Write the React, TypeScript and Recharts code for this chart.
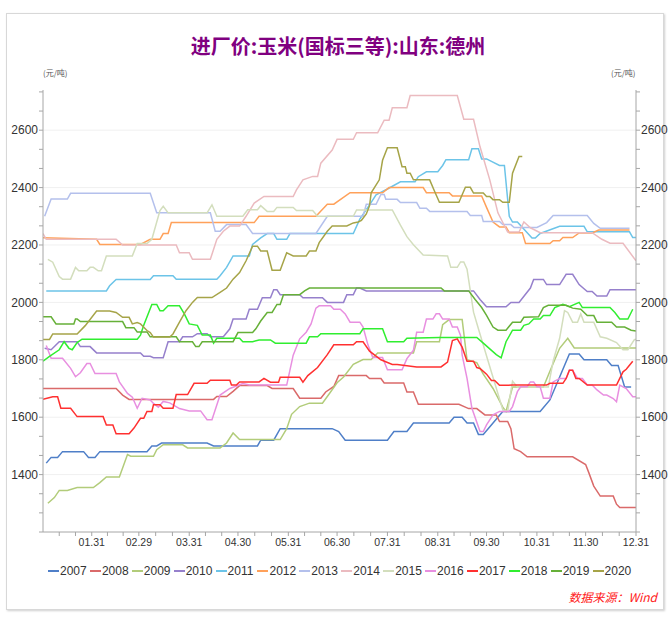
import React from 'react';
import { LineChart, Line, XAxis, YAxis, ReferenceLine } from 'recharts';

const years = ['2007','2008','2009','2010','2011','2012','2013','2014','2015','2016','2017','2018','2019','2020'];
const colors = ['#4F7FC8','#DA6A6A','#B2CC7A','#9680CC','#6CC4E8','#FFA15A','#B4C0EC','#EBBBC0','#D3DEBD','#E88FE0','#FF3030','#30EE30','#66B038','#A6A448'];
const monthEndDays = [30,59,90,120,151,181,212,243,273,304,334,365];
const monthLabels = ['01.31','02.29','03.31','04.30','05.31','06.30','07.31','08.31','09.30','10.31','11.30','12.31'];
const yLabels = [1400,1600,1800,2000,2200,2400,2600];

const s2007 = [[2,1440],[5,1460],[9,1460],[12,1480],[25,1480],[28,1460],[32,1460],[35,1480],[64,1480],[67,1500],[70,1500],[73,1510],[101,1510],[105,1500],[132,1500],[134,1520],[142,1520],[146,1560],[178,1560],[182,1550],[186,1520],[212,1520],[216,1550],[224,1550],[228,1580],[250,1580],[253,1600],[258,1600],[261,1580],[265,1580],[268,1540],[271,1540],[283,1620],[306,1620],[312,1660],[318,1740],[324,1820],[330,1820],[333,1800],[347,1800],[350,1780],[354,1780],[358,1705],[362,1705]];
const s2008 = [[0,1700],[45,1700],[49,1677],[53,1662],[105,1662],[107,1672],[113,1672],[117,1690],[121,1710],[138,1710],[141,1700],[154,1700],[158,1666],[171,1666],[174,1688],[179,1707],[182,1745],[199,1745],[201,1735],[208,1735],[210,1719],[222,1719],[224,1688],[228,1688],[231,1645],[256,1645],[262,1630],[267,1630],[272,1608],[279,1608],[281,1585],[286,1585],[288,1560],[290,1490],[294,1480],[298,1462],[326,1462],[334,1435],[336,1406],[339,1360],[343,1325],[351,1325],[353,1297],[355,1285],[365,1285]];
const s2009 = [[3,1300],[7,1320],[10,1345],[15,1345],[21,1355],[31,1355],[35,1372],[39,1392],[47,1392],[52,1470],[54,1464],[68,1464],[70,1487],[74,1504],[86,1504],[89,1493],[109,1493],[113,1510],[117,1545],[121,1522],[146,1522],[150,1560],[153,1610],[158,1637],[164,1649],[172,1649],[176,1680],[181,1720],[185,1740],[191,1784],[197,1801],[202,1801],[206,1824],[228,1824],[230,1863],[244,1863],[246,1922],[250,1940],[258,1940],[261,1800],[267,1790],[271,1750],[277,1700],[283,1635],[285,1620],[289,1705],[308,1705],[312,1760],[318,1840],[323,1875],[327,1841],[365,1841]];
const s2010 = [[1,1840],[5,1835],[10,1863],[21,1863],[23,1846],[29,1846],[33,1824],[60,1824],[62,1812],[66,1812],[68,1807],[74,1807],[77,1863],[84,1863],[86,1880],[92,1880],[95,1891],[101,1891],[103,1880],[111,1880],[115,1908],[117,1942],[125,1942],[127,1976],[132,1976],[135,2016],[140,2016],[142,2044],[144,2044],[146,2027],[158,2027],[160,2016],[172,2016],[175,2000],[185,2000],[187,2027],[191,2027],[193,2050],[195,2050],[199,2040],[265,2040],[269,2010],[273,1985],[285,1985],[288,2000],[293,2000],[300,2050],[302,2080],[308,2080],[310,2062],[318,2062],[322,2098],[326,2098],[330,2062],[335,2038],[338,2038],[341,2022],[347,2022],[349,2044],[365,2044]];
const s2011 = [[2,2040],[39,2040],[41,2058],[45,2080],[66,2080],[68,2093],[80,2093],[82,2081],[107,2081],[109,2093],[113,2122],[117,2162],[127,2162],[129,2202],[134,2225],[138,2240],[142,2240],[144,2220],[150,2220],[152,2240],[191,2240],[195,2290],[201,2340],[205,2375],[212,2395],[220,2420],[229,2420],[231,2438],[236,2455],[243,2455],[246,2477],[248,2497],[262,2497],[264,2535],[268,2535],[270,2500],[273,2500],[281,2477],[284,2477],[287,2300],[289,2280],[292,2280],[301,2224],[303,2224],[306,2240],[318,2265],[333,2265],[335,2246],[361,2246],[363,2226],[365,2226]];
const s2012 = [[0,2225],[33,2220],[35,2202],[60,2202],[66,2220],[72,2220],[74,2240],[77,2240],[79,2278],[130,2278],[133,2300],[168,2300],[175,2342],[179,2342],[189,2382],[209,2382],[213,2400],[234,2400],[236,2382],[250,2382],[252,2371],[270,2371],[273,2331],[277,2280],[281,2263],[285,2263],[287,2243],[295,2243],[297,2205],[312,2205],[314,2215],[318,2215],[320,2226],[326,2226],[330,2242],[338,2242],[342,2252],[361,2252]];
const s2013 = [[1,2300],[5,2360],[15,2360],[17,2380],[66,2380],[70,2312],[103,2312],[106,2248],[109,2248],[113,2271],[125,2271],[129,2240],[168,2240],[175,2300],[197,2300],[199,2342],[205,2342],[208,2376],[210,2376],[211,2359],[218,2359],[220,2348],[230,2348],[232,2328],[236,2328],[238,2317],[261,2317],[263,2303],[270,2303],[271,2282],[281,2282],[283,2271],[288,2271],[290,2261],[304,2261],[310,2278],[314,2303],[335,2303],[339,2275],[343,2258],[361,2258]];
const s2014 = [[0,2240],[2,2220],[45,2220],[49,2200],[82,2200],[84,2173],[90,2173],[92,2150],[103,2150],[107,2220],[111,2248],[115,2266],[121,2266],[125,2300],[130,2346],[136,2369],[154,2369],[156,2392],[160,2427],[166,2439],[169,2439],[171,2485],[178,2531],[181,2568],[191,2568],[193,2591],[206,2591],[210,2635],[213,2635],[215,2678],[224,2678],[226,2721],[255,2721],[259,2638],[265,2638],[269,2542],[275,2427],[280,2312],[286,2245],[293,2245],[296,2280],[300,2260],[306,2243],[338,2243],[344,2220],[349,2206],[357,2206],[365,2145]];
const s2015 = [[3,2150],[6,2140],[10,2090],[12,2081],[17,2081],[20,2122],[22,2110],[27,2110],[29,2122],[31,2122],[34,2110],[36,2110],[39,2162],[55,2162],[58,2205],[64,2205],[67,2220],[72,2320],[74,2335],[77,2312],[101,2312],[104,2340],[107,2300],[123,2300],[126,2323],[132,2323],[134,2337],[138,2317],[142,2317],[144,2331],[154,2331],[156,2320],[166,2320],[169,2300],[191,2300],[193,2322],[215,2322],[220,2269],[224,2229],[228,2201],[234,2165],[249,2162],[251,2122],[255,2122],[257,2141],[259,2141],[261,2116],[265,1966],[268,1908],[274,1795],[283,1626],[286,1620],[289,1725],[292,1705],[311,1705],[314,1795],[318,1875],[321,1971],[323,1965],[326,1931],[329,1931],[331,1960],[333,1931],[339,1931],[343,1880],[347,1875],[353,1860],[357,1835],[360,1835],[364,1870],[365,1872]];
const s2016 = [[2,1850],[5,1805],[12,1805],[17,1770],[20,1741],[23,1755],[27,1787],[29,1787],[32,1752],[45,1752],[47,1723],[52,1683],[55,1670],[58,1631],[61,1666],[66,1660],[68,1648],[71,1635],[74,1655],[78,1650],[84,1630],[90,1622],[97,1622],[101,1591],[104,1591],[109,1677],[115,1700],[123,1717],[127,1712],[150,1712],[154,1816],[158,1873],[162,1896],[165,1925],[168,1980],[170,1988],[177,1988],[179,1976],[183,1976],[186,1960],[189,1931],[195,1931],[197,1914],[200,1852],[203,1808],[209,1808],[212,1765],[221,1765],[224,1804],[228,1833],[230,1896],[234,1896],[236,1942],[240,1942],[242,1960],[244,1960],[246,1942],[250,1942],[252,1914],[255,1914],[257,1885],[258,1816],[261,1735],[264,1631],[269,1550],[271,1550],[273,1573],[277,1608],[281,1620],[287,1620],[289,1637],[292,1689],[294,1706],[298,1706],[300,1723],[302,1723],[304,1706],[306,1706],[308,1666],[312,1666],[314,1723],[318,1735],[322,1735],[324,1764],[326,1764],[329,1735],[332,1735],[335,1712],[338,1712],[341,1695],[345,1677],[347,1677],[351,1665],[353,1654],[355,1712],[359,1700],[363,1671],[365,1671]];
const s2017 = [[0,1662],[6,1671],[9,1671],[11,1631],[17,1631],[21,1602],[37,1602],[39,1573],[43,1573],[45,1542],[53,1542],[56,1562],[60,1596],[62,1596],[64,1620],[67,1620],[68,1643],[72,1643],[74,1631],[80,1631],[82,1679],[89,1679],[93,1718],[101,1718],[103,1729],[115,1729],[116,1712],[119,1712],[121,1723],[133,1723],[136,1735],[140,1722],[145,1722],[146,1739],[158,1739],[160,1722],[163,1745],[169,1773],[175,1818],[179,1852],[191,1852],[193,1863],[197,1863],[201,1830],[208,1800],[215,1784],[218,1784],[230,1775],[245,1775],[249,1792],[252,1867],[255,1873],[258,1844],[261,1795],[265,1795],[267,1773],[269,1770],[273,1750],[276,1728],[278,1728],[281,1711],[286,1711],[289,1712],[310,1712],[312,1718],[320,1718],[322,1735],[324,1764],[326,1764],[328,1735],[330,1735],[335,1712],[353,1712],[355,1735],[357,1758],[359,1767],[363,1795]];
const s2018 = [[0,1795],[4,1812],[10,1835],[13,1863],[16,1840],[18,1835],[21,1860],[24,1872],[58,1872],[60,1886],[62,1920],[67,1993],[70,1993],[72,1971],[74,1971],[77,1988],[84,1988],[87,1960],[90,1925],[95,1920],[98,1886],[103,1886],[105,1858],[107,1875],[121,1875],[123,1863],[129,1863],[133,1869],[140,1869],[143,1858],[162,1858],[164,1880],[169,1880],[171,1891],[195,1891],[197,1908],[209,1908],[212,1863],[222,1863],[224,1875],[244,1878],[267,1878],[271,1858],[279,1818],[282,1807],[285,1863],[289,1903],[294,1903],[296,1920],[299,1925],[302,1942],[306,1942],[308,1954],[312,1954],[315,1982],[320,1993],[324,1985],[330,2000],[332,1982],[349,1982],[352,1965],[355,1942],[360,1942],[363,1976]];
const s2019 = [[0,1950],[5,1950],[8,1925],[19,1925],[20,1942],[21,1942],[23,1933],[49,1933],[51,1912],[56,1912],[58,1897],[64,1897],[66,1880],[82,1880],[84,1863],[92,1863],[94,1846],[96,1846],[98,1863],[117,1863],[120,1895],[129,1895],[131,1908],[134,1935],[138,1965],[141,1965],[144,1993],[146,1993],[148,2027],[158,2027],[161,2040],[164,2050],[245,2050],[247,2040],[262,2040],[266,2010],[270,1982],[273,1955],[277,1914],[280,1903],[285,1903],[289,1931],[294,1931],[296,1948],[305,1950],[308,1982],[311,1990],[322,1990],[326,1980],[331,1976],[335,1954],[339,1954],[341,1931],[350,1931],[353,1914],[358,1914],[362,1903],[365,1900]];
const s2020 = [[0,1871],[4,1871],[6,1890],[21,1890],[26,1919],[33,1970],[41,1970],[45,1965],[49,1948],[53,1948],[55,1925],[58,1930],[60,1925],[64,1902],[66,1895],[68,1879],[78,1879],[80,1890],[84,1931],[88,1971],[92,2000],[95,2017],[104,2017],[109,2035],[113,2050],[117,2081],[121,2104],[125,2145],[129,2196],[132,2196],[134,2179],[138,2179],[141,2112],[146,2112],[150,2173],[154,2162],[162,2162],[164,2179],[168,2179],[170,2208],[175,2248],[178,2266],[187,2266],[191,2277],[194,2280],[196,2286],[199,2308],[201,2337],[202,2382],[207,2427],[209,2495],[212,2539],[218,2539],[221,2473],[223,2473],[224,2450],[226,2450],[228,2427],[238,2427],[241,2387],[244,2349],[256,2349],[258,2375],[260,2401],[263,2401],[265,2381],[271,2381],[273,2369],[275,2369],[277,2358],[281,2358],[283,2349],[287,2349],[289,2450],[293,2508],[295,2508]];

const seriesValues = [s2007,s2008,s2009,s2010,s2011,s2012,s2013,s2014,s2015,s2016,s2017,s2018,s2019,s2020];

const xTicks: number[] = [];
{
  let prev = 0;
  for (const m of monthEndDays) {
    xTicks.push(prev + (m - prev) / 3, prev + (2 * (m - prev)) / 3, m);
    prev = m;
  }
}
const yTicks: number[] = [];
for (let k = 0; k <= 23; k++) yTicks.push(1200 + (k * 200) / 3);

const fmtX = (v: number) => {
  const i = monthEndDays.indexOf(v);
  return i >= 0 ? monthLabels[i] : '';
};
const fmtY = (v: number) => {
  const r = Math.round(v);
  return Math.abs(v - r) < 0.01 && yLabels.includes(r) ? String(r) : '';
};

const FONT = "'Liberation Sans', 'Noto Sans CJK SC', sans-serif";

export default function App() {
  const axisColor = '#a6a6a6';
  return (
    <div style={{ position: 'absolute', left: 0, top: 0, width: 670, height: 622, background: '#fff', fontFamily: FONT }}>
      <div style={{ position: 'absolute', left: 6, top: 13, width: 656, height: 595, border: '1px solid #d8d8d8', boxShadow: '1px 1px 2px #cfcfcf' }} />
      <div style={{ position: 'absolute', left: 3, top: 31, width: 670, textAlign: 'center', fontFamily: "'Noto Sans CJK SC', sans-serif", fontWeight: 700, fontSize: 20, color: '#800080', lineHeight: '30px' }}>
        进厂价:玉米(国标三等):山东:德州
      </div>
      <div style={{ position: 'absolute', left: 43, top: 67, fontSize: 8, color: '#555', fontFamily: "'Noto Sans CJK SC', sans-serif" }}>(元/吨)</div>
      <div style={{ position: 'absolute', left: 611, top: 67, fontSize: 8, color: '#555', fontFamily: "'Noto Sans CJK SC', sans-serif" }}>(元/吨)</div>
      <div style={{ position: 'absolute', left: 0, top: 0 }}>
        <LineChart width={670} height={622} margin={{ top: 90, right: 0, bottom: 0, left: 0 }}>
          <XAxis type="number" dataKey="d" domain={[0, 365]} ticks={xTicks} interval={0} tickFormatter={fmtX}
            height={90} tickSize={4} tickMargin={3} stroke={axisColor} allowDataOverflow
            tick={{ fill: '#333', fontSize: 10.5, fontFamily: FONT }} />
          <YAxis yAxisId="l" orientation="left" domain={[1200, 2740]} ticks={yTicks} interval={0} tickFormatter={fmtY}
            width={43} tickSize={4} tickMargin={1} stroke={axisColor} allowDataOverflow
            tick={{ fill: '#333', fontSize: 12, fontFamily: FONT }} />
          <YAxis yAxisId="r" orientation="right" domain={[1200, 2740]} ticks={yTicks} interval={0} tickFormatter={fmtY}
            width={34} tickSize={4} tickMargin={1} stroke={axisColor} allowDataOverflow
            tick={{ fill: '#333', fontSize: 12, fontFamily: FONT }} />
          {yLabels.map((v) => (
            <ReferenceLine key={'g' + v} yAxisId="l" y={v} stroke="#f0f0f0" strokeWidth={1} />
          ))}
          {years.map((y, i) => (
            <Line key={y} yAxisId="l" name={y} data={seriesValues[i].map(([d, v]) => ({ d, v }))} dataKey="v"
              type="linear" stroke={colors[i]} strokeWidth={1.5} dot={false} activeDot={false}
              isAnimationActive={false} />
          ))}
        </LineChart>
      </div>
      <div style={{ position: 'absolute', left: 48, top: 563, display: 'flex', fontSize: 12, color: '#333', lineHeight: '16px' }}>
        {years.map((y, i) => (
          <div key={y} style={{ width: 41.9, display: 'flex', alignItems: 'center', whiteSpace: 'nowrap' }}>
            <span style={{ display: 'inline-block', width: 11, height: 2, background: colors[i], marginRight: 1 }} />
            <span>{y}</span>
          </div>
        ))}
      </div>
      <div style={{ position: 'absolute', right: 13, top: 588, fontSize: 12, color: '#FF2020', fontStyle: 'italic', fontFamily: "'Noto Sans CJK SC', sans-serif" }}>
        数据来源：Wind
      </div>
    </div>
  );
}
